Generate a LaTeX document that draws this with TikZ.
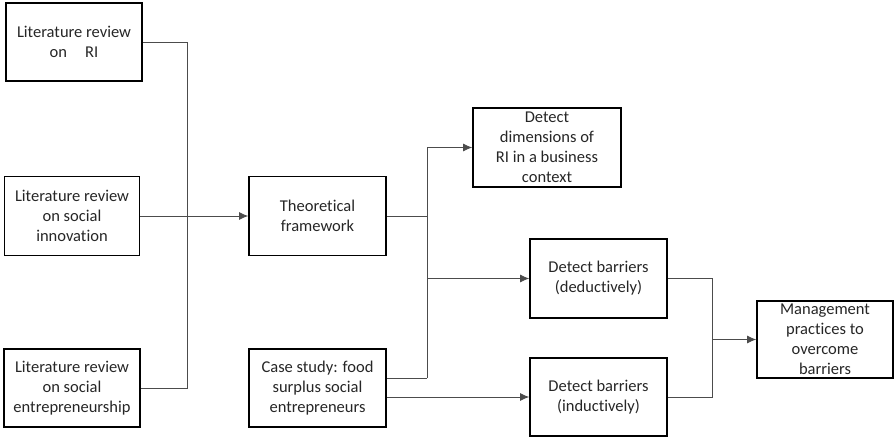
\documentclass[tikz,border=0pt]{standalone}
\usepackage{fontspec}
\setmainfont[Ligatures=NoCommon]{Carlito}
\usetikzlibrary{arrows.meta,calc}
\tikzset{
  box/.style={draw=black, line width=1.6pt, align=center, inner sep=2pt,
    font=\fontsize{16.5}{20}\selectfont, text=black!85},
  conn/.style={draw=black!70, line width=0.9pt},
  arr/.style={conn, -{Latex[length=9pt,width=8pt]}}
}
\begin{document}
\begin{tikzpicture}[x=1pt,y=-1pt]
\useasboundingbox (0,0) rectangle (895,439);
\node[box, minimum width=136pt, minimum height=78pt] (lr1) at (74,42) {Literature review\\on\hspace{1.1em}RI};
\node[box, minimum width=135pt, minimum height=79pt] (lr2) at (72,216) {Literature review\\on social\\innovation};
\node[box, minimum width=136pt, minimum height=78pt] (lr3) at (72,388) {Literature review\\on social\\entrepreneurship};
\node[box, minimum width=137pt, minimum height=79pt] (tf) at (317.5,216) {Theoretical\\framework};
\node[box, minimum width=137pt, minimum height=78pt] (cs) at (317.5,388) {Case study: food\\surplus social\\entrepreneurs};
\node[box, minimum width=148pt, minimum height=79pt] (dd) at (547,147.5) {Detect\\dimensions of\\RI in a business\\context};
\node[box, minimum width=137pt, minimum height=79pt] (bd) at (598.5,278.5) {Detect barriers\\(deductively)};
\node[box, minimum width=137pt, minimum height=78pt] (bi) at (598.5,397) {Detect barriers\\(inductively)};
\node[box, minimum width=136pt, minimum height=77pt] (mp) at (825,339.5) {Management\\practices to\\overcome\\barriers};
% left junction
\coordinate (j1) at (187,216);
\draw[conn] (lr1.east) -| (j1);
\draw[conn] (lr3.east) -| (j1);
\draw[arr] (lr2.east) -- (tf.west);
% middle junction
\coordinate (csA) at ([yshift=10pt]cs.east);
\coordinate (j2) at (427,378);
\draw[conn] (tf.east) -- (tf.east -| j2);
\draw[conn] (csA) -- (j2);
\draw[arr] (j2) |- (dd.west);
\draw[arr] (j2 |- bd.west) -- (bd.west);
\draw[arr] (cs.east |- bi.west) -- (bi.west);
% right junction
\coordinate (j3) at (712,339.5);
\draw[conn] (bd.east) -| (j3);
\draw[conn] (bi.east) -| (j3);
\draw[arr] (j3) -- (mp.west);
\end{tikzpicture}
\end{document}
